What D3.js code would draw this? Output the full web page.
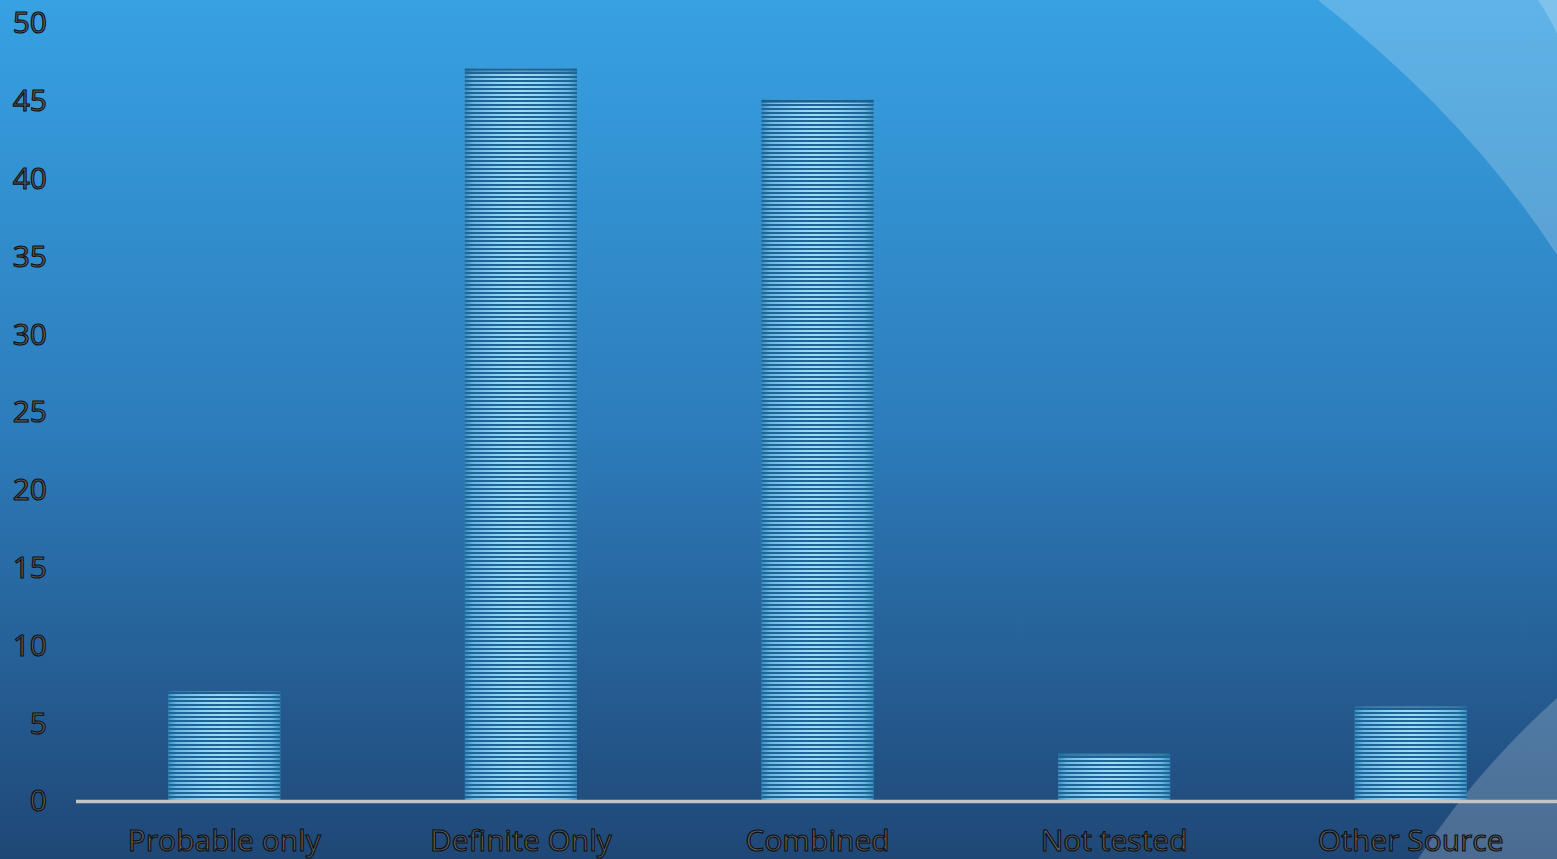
<!DOCTYPE html>
<html>
<head>
<meta charset="utf-8">
<script src="https://cdn.jsdelivr.net/npm/d3@7"></script>
<style>
  html, body { margin: 0; padding: 0; overflow: hidden; background: #2a6fae; }
  svg { display: block; }
</style>
</head>
<body>
<svg id="chart" width="1557" height="859"></svg>
<script>
// Categories and counts
const categories = ["Probable only", "Definite Only", "Combined", "Not tested", "Other Source"];
const counts = [7, 47, 45, 3, 6];
const yTicks = [0, 5, 10, 15, 20, 25, 30, 35, 40, 45, 50];

const W = 1557, H = 859;
const svg = d3.select("#chart");
const defs = svg.append("defs");

// Slide background: vertical blue gradient
const bg = defs.append("linearGradient").attr("id", "bgGrad")
  .attr("x1", 0).attr("y1", 0).attr("x2", 0).attr("y2", 1);
bg.append("stop").attr("offset", 0).attr("stop-color", "#37a1e2");
bg.append("stop").attr("offset", 0.5).attr("stop-color", "#2d7cbb");
bg.append("stop").attr("offset", 1).attr("stop-color", "#1f4776");

// Bar fill: glossy horizontal gradient overlaid with fine horizontal stripes
const barGrad = defs.append("linearGradient").attr("id", "barGrad")
  .attr("x1", 0).attr("y1", 0).attr("x2", 1).attr("y2", 0);
[[0, "#3c8dc0"], [0.08, "#6cb8e2"], [0.3, "#92d2f1"], [0.5, "#a2dbf5"],
 [0.7, "#92d2f1"], [0.92, "#6cb8e2"], [1, "#3c8dc0"]]
  .forEach(([o, c]) => barGrad.append("stop").attr("offset", o).attr("stop-color", c));

const stripes = defs.append("pattern").attr("id", "stripes")
  .attr("patternUnits", "userSpaceOnUse")
  .attr("width", 8).attr("height", 4);
stripes.append("rect").attr("x", 0).attr("y", 0).attr("width", 8).attr("height", 2)
  .attr("fill", "#1c6596");

svg.append("rect").attr("width", W).attr("height", H).attr("fill", "url(#bgGrad)");

// Decorative light sweeps on the right side of the slide
const deco = svg.append("g");
deco.append("path")
  .attr("d", "M1318,0 Q1470,120 1557,255 L1557,0 Z")
  .attr("fill", "#ffffff").attr("fill-opacity", 0.2);
deco.append("path")
  .attr("d", "M1538,0 Q1550,18 1557,34 L1557,0 Z")
  .attr("fill", "#ffffff").attr("fill-opacity", 0.2);
deco.append("path")
  .attr("d", "M1557,698 Q1475,772 1418,859 L1557,859 Z")
  .attr("fill", "#ffffff").attr("fill-opacity", 0.2);

// Scales
const x = d3.scaleBand().domain(categories).range([76, 1559])
  .paddingInner(0.622).paddingOuter(0.311);
const y = d3.scaleLinear().domain([0, 50]).range([800, 22]);

// Outlined label text: dark rim around a grey core
const textStyle = sel => sel
  .attr("font-family", "'Open Sans', sans-serif")
  .attr("font-size", 30)
  .attr("fill", "#5e5e5e")
  .attr("stroke", "#0e0e0e")
  .attr("stroke-width", 1.1);

// Y axis labels (no axis line)
const yAxis = svg.append("g").attr("transform", "translate(47,0)")
  .call(d3.axisLeft(y).tickValues(yTicks).tickSize(0).tickPadding(0));
yAxis.select(".domain").remove();
yAxis.selectAll("text").call(textStyle).attr("text-anchor", "end").attr("dy", "0.36em");

// Bars
const bars = svg.append("g");
const data = categories.map((c, i) => ({ c, v: counts[i] }));
bars.selectAll("rect.base").data(data).join("rect").attr("class", "base")
  .attr("x", d => x(d.c)).attr("width", x.bandwidth())
  .attr("y", d => y(d.v)).attr("height", d => y(0) - y(d.v))
  .attr("fill", "url(#barGrad)");
bars.selectAll("rect.stripe").data(data).join("rect").attr("class", "stripe")
  .attr("x", d => x(d.c)).attr("width", x.bandwidth())
  .attr("y", d => y(d.v)).attr("height", d => y(0) - y(d.v))
  .attr("fill", "url(#stripes)");
bars.selectAll("rect.cap").data(data).join("rect").attr("class", "cap")
  .attr("x", d => x(d.c)).attr("width", x.bandwidth())
  .attr("y", d => y(d.v)).attr("height", 3)
  .attr("fill", "#1b5e8c").attr("fill-opacity", 0.7);

// X axis baseline
svg.append("line")
  .attr("x1", 76).attr("x2", W).attr("y1", y(0) + 1.5).attr("y2", y(0) + 1.5)
  .attr("stroke", "#c4c4c4").attr("stroke-width", 3.5);

// X axis labels
const xAxis = svg.append("g").attr("transform", `translate(0,${y(0)})`)
  .call(d3.axisBottom(x).tickSize(0).tickPadding(0));
xAxis.select(".domain").remove();
xAxis.selectAll("text").call(textStyle).attr("dy", null).attr("y", 51);
</script>
</body>
</html>
